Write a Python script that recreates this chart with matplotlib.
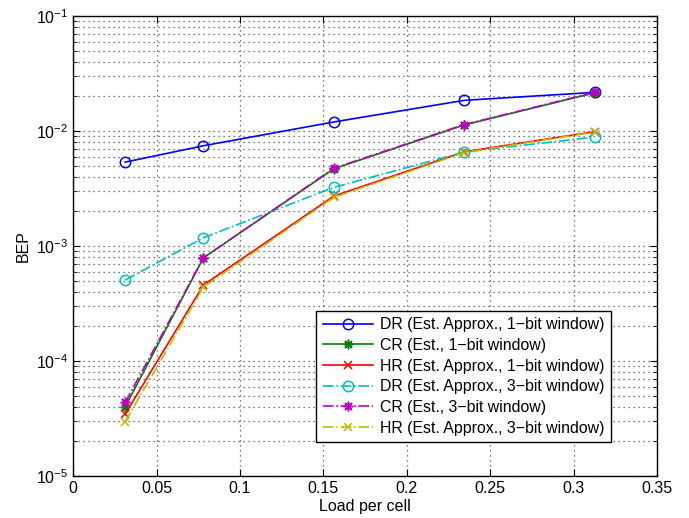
import numpy as np
import matplotlib
matplotlib.use("Agg")
import matplotlib.pyplot as plt
from matplotlib.ticker import LogLocator, NullFormatter

plt.rcParams['font.family'] = ['Liberation Sans', 'DejaVu Sans']
plt.rcParams['mathtext.fontset'] = 'custom'
plt.rcParams['mathtext.rm'] = 'Liberation Sans'
plt.rcParams['mathtext.it'] = 'Liberation Sans:italic'

# load per cell (x) and BEP values
load = [0.03125, 0.078125, 0.15625, 0.234375, 0.3125]

dr_1bit = [5.37e-3, 7.45e-3, 1.20e-2, 1.85e-2, 2.17e-2]
cr_1bit = [4.0e-5, 7.9e-4, 4.7e-3, 1.13e-2, 2.15e-2]
hr_1bit = [3.46e-5, 4.58e-4, 2.72e-3, 6.6e-3, 9.87e-3]
dr_3bit = [5.06e-4, 1.18e-3, 3.24e-3, 6.57e-3, 8.87e-3]
cr_3bit = [4.37e-5, 7.9e-4, 4.75e-3, 1.14e-2, 2.17e-2]
hr_3bit = [2.97e-5, 4.4e-4, 2.65e-3, 6.5e-3, 9.8e-3]

xticks = [0, 0.05, 0.1, 0.15, 0.2, 0.25, 0.3, 0.35]
xticklabels = ['0', '0.05', '0.1', '0.15', '0.2', '0.25', '0.3', '0.35']

labels = [
    "DR (Est. Approx., 1\u2212bit window)",
    "CR (Est., 1\u2212bit window)",
    "HR (Est. Approx., 1\u2212bit window)",
    "DR (Est. Approx., 3\u2212bit window)",
    "CR (Est., 3\u2212bit window)",
    "HR (Est. Approx., 3\u2212bit window)",
]

fig = plt.figure(figsize=(6.89, 5.18), dpi=100)
ax = fig.add_axes([0.106, 0.081, 0.848, 0.888])

series = [dr_1bit, cr_1bit, hr_1bit, dr_3bit, cr_3bit, hr_3bit]
colors = ['#0000ff', '#008000', '#ff0000', '#00bfbf', '#bf00bf', '#bfbf00']
styles = ['-', '-', '-', '-.', '-.', '-.']
markers = ['o', (8, 2, 0), 'x', 'o', (8, 2, 0), 'x']
sizes = [7.5, 7, 6, 7.5, 7, 6]

for vals, lab, c, ls, mk, ms in zip(series, labels, colors, styles, markers, sizes):
    ax.plot(load, vals, linestyle=ls, color=c, marker=mk, markersize=ms,
            markerfacecolor='none', markeredgecolor=c, markeredgewidth=1.1,
            linewidth=1.2, label=lab)

ax.set_yscale('log')
ax.set_xlim(0, 0.35)
ax.set_ylim(1e-5, 1e-1)
ax.set_xticks(xticks)
ax.set_xticklabels(xticklabels)
ax.yaxis.set_major_locator(LogLocator(base=10, numticks=10))
ax.yaxis.set_minor_locator(LogLocator(base=10, subs=np.arange(2, 10), numticks=10))
ax.yaxis.set_minor_formatter(NullFormatter())

ax.grid(True, which='major', linestyle=(0, (1, 3)), color='0.3', linewidth=0.9)
ax.grid(True, which='minor', axis='y', linestyle=(0, (1, 3)), color='0.3', linewidth=0.9)
ax.tick_params(which='both', direction='in', top=True, right=True, labelsize=11.5)
ax.tick_params(which='major', length=5)
ax.tick_params(which='minor', length=3)
for s in ax.spines.values():
    s.set_linewidth(1.0)

ax.set_xlabel("Load per cell", fontsize=11.5, labelpad=2)
ax.set_ylabel("BEP", fontsize=11.5, labelpad=4)

leg = ax.legend(loc='lower right', bbox_to_anchor=(0.92, 0.074), fontsize=11.4,
                fancybox=False, edgecolor='black', framealpha=1, borderpad=0.4,
                labelspacing=0.36, handlelength=3.2, handletextpad=0.4, borderaxespad=0)
leg.get_frame().set_linewidth(1.0)

fig.savefig("out.png", dpi=100)
